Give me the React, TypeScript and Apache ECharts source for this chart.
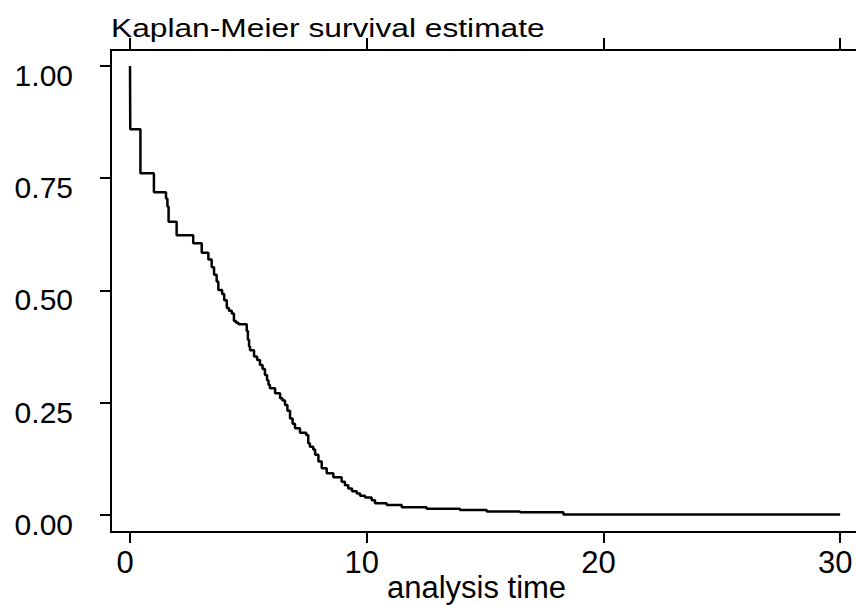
import React, { useEffect, useRef } from "react";
import * as echarts from "echarts";

// Kaplan-Meier step points: analysis time and survival estimate
const times = [
  0, 0.01, 0.44, 1.01, 1.52, 1.58, 1.63, 1.97, 2.67, 3.03, 3.31, 3.45, 3.55, 3.66, 3.73,
  3.89, 3.98, 4.09, 4.18, 4.3, 4.39, 4.48, 4.58, 4.93, 4.98, 5.03, 5.07, 5.24, 5.37, 5.49,
  5.6, 5.7, 5.79, 5.85, 5.91, 6.13, 6.34, 6.44, 6.55, 6.65, 6.76, 6.87, 6.97, 7.18, 7.44,
  7.53, 7.6, 7.74, 7.82, 7.96, 8.1, 8.31, 8.59, 8.94, 9.08, 9.22, 9.38, 9.58, 9.72, 9.93,
  10.21, 10.35, 10.84, 11.48, 12.53, 13.94, 15.07, 16.48, 18.31, 30.0,
];
const survival = [
  1.0, 0.859, 0.761, 0.719, 0.705, 0.687, 0.653, 0.623, 0.605, 0.584, 0.569, 0.552, 0.535, 0.52, 0.501,
  0.492, 0.478, 0.461, 0.455, 0.449, 0.432, 0.428, 0.425, 0.41, 0.39, 0.375, 0.367, 0.353, 0.345, 0.334,
  0.325, 0.312, 0.3, 0.29, 0.282, 0.271, 0.26, 0.255, 0.245, 0.232, 0.215, 0.203, 0.193, 0.183, 0.178,
  0.16, 0.152, 0.146, 0.134, 0.119, 0.104, 0.093, 0.084, 0.074, 0.066, 0.059, 0.053, 0.048, 0.043, 0.039,
  0.033, 0.026, 0.022, 0.017, 0.014, 0.011, 0.008, 0.006, 0.001, 0.001,
];
const xTicks = [0, 10, 20, 30];
const yTicks = [0, 0.25, 0.5, 0.75, 1];
const titleText = "Kaplan-Meier survival estimate";
const xTitle = "analysis time";

const FONT = '"Liberation Sans", Arial, Helvetica, sans-serif';

export default function App() {
  const ref = useRef<HTMLDivElement>(null);
  useEffect(() => {
    if (!ref.current) return;
    const chart = echarts.init(ref.current, null, { renderer: "svg" });
    const data = times.map((t, i) => [t, survival[i]]);
    const lineW = 2;
    chart.setOption({
      animation: false,
      backgroundColor: "#ffffff",
      grid: { left: 111, top: 50, right: 0, bottom: 73, containLabel: false },
      xAxis: [
        {
          type: "value",
          position: "bottom",
          min: -0.803,
          max: 30.67,
          splitLine: { show: false },
          axisLine: { show: true, onZero: false, lineStyle: { color: "#000", width: lineW } },
          axisTick: { show: true, customValues: xTicks, length: 11, inside: false, lineStyle: { color: "#000", width: lineW } },
          axisLabel: {
            customValues: xTicks,
            color: "#000",
            fontSize: 31,
            fontFamily: FONT,
            margin: 15,
            padding: [0, 10, 0, 0],
            formatter: (v: number) => String(v),
          },
        },
        {
          type: "value",
          position: "top",
          min: -0.803,
          max: 30.67,
          splitLine: { show: false },
          axisLine: { show: true, onZero: false, lineStyle: { color: "#000", width: lineW } },
          axisTick: { show: true, customValues: xTicks, length: 12, inside: false, lineStyle: { color: "#000", width: lineW } },
          axisLabel: { show: false },
        },
      ],
      yAxis: {
        type: "value",
        min: -0.0379,
        max: 1.0356,
        splitLine: { show: false },
        axisLine: { show: true, onZero: false, lineStyle: { color: "#000", width: lineW } },
        axisTick: { show: true, customValues: yTicks, length: 11, lineStyle: { color: "#000", width: lineW } },
        axisLabel: {
          customValues: yTicks,
          color: "#000",
          fontSize: 30,
          fontFamily: FONT,
          margin: 38,
          verticalAlign: "top",
          lineHeight: 19,
          formatter: (v: number) => v.toFixed(2),
        },
      },
      graphic: [
        {
          type: "text",
          x: 111,
          y: 28,
          scaleX: 1.22,
          style: {
            text: titleText,
            fontSize: 26,
            fontFamily: FONT,
            fill: "#000",
            align: "left",
            verticalAlign: "middle",
          },
        },
        {
          type: "text",
          x: 476.5,
          y: 587,
          style: {
            text: xTitle,
            fontSize: 31,
            fontFamily: FONT,
            fill: "#000",
            align: "center",
            verticalAlign: "middle",
          },
        },
      ],
      series: [
        {
          type: "line",
          xAxisIndex: 0,
          step: "end",
          data,
          showSymbol: false,
          symbol: "none",
          lineStyle: { color: "#000", width: 2.5 },
          silent: true,
        },
      ],
    });
    return () => chart.dispose();
  }, []);
  return (
    <div
      ref={ref}
      style={{ position: "absolute", left: 0, top: 0, width: 856, height: 605 }}
    />
  );
}
